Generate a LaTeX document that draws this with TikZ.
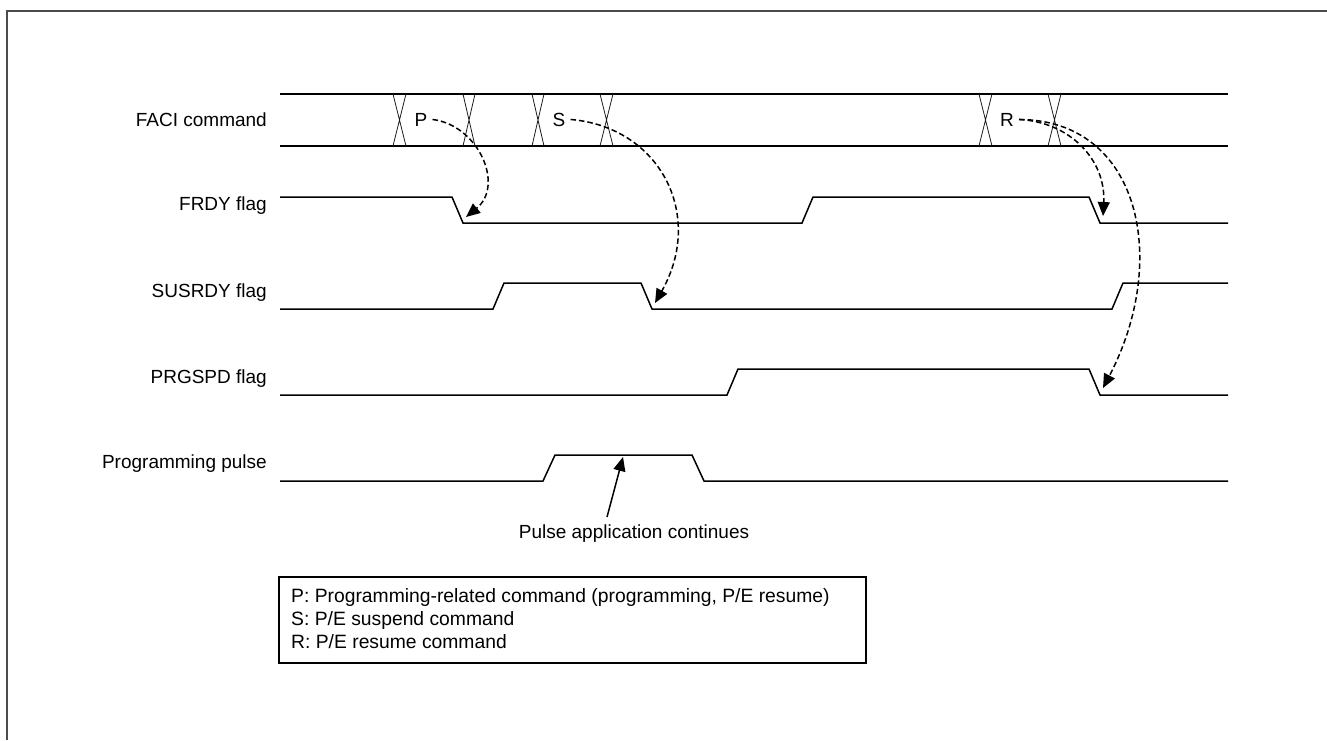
\documentclass[tikz,border=0pt]{standalone}
\usepackage{fontspec}
\setmainfont{Liberation Sans}
\usetikzlibrary{arrows.meta}
\begin{document}
\begin{tikzpicture}[x=1pt,y=-1pt,
  every node/.style={font=\fontsize{19}{23}\selectfont, inner sep=0pt},
  sig/.style={line width=1.5pt, line join=miter},
  xmark/.style={line width=0.8pt, draw=black!90},
  tip/.style={-{Triangle[length=14pt,width=12pt]}},
  dasharrow/.style={line width=1.5pt, dash pattern=on 5.5pt off 3pt, tip},
  sollarrow/.style={line width=1.5pt, tip},
  lbl/.style={anchor=base east},
  cmd/.style={anchor=base, inner xsep=5pt},
  legtext/.style={anchor=base west}]
\useasboundingbox (0,0) rectangle (1327,740);
% frame
\draw[draw=black!70, line width=2pt] (7,740) -- (7,11) -- (1327,11);

% labels
\node[lbl] (lfaci) at (267,126) {FACI command};
\node[lbl] (lfrdy) at (267,210) {FRDY flag};
\node[lbl] (lsus) at (267,297) {SUSRDY flag};
\node[lbl] (lprg) at (267,383) {PRGSPD flag};
\node[lbl] (lpulse) at (267,468) {Programming pulse};

% FACI bus
\draw[sig] (280,94) -- (1228,94);
\draw[sig] (280,146) -- (1228,146);
\foreach \a/\b in {393/406, 463/475, 532/544, 600/613, 979/992, 1048/1061}{
  \draw[xmark] (\a,94) -- (\b,146) (\b,94) -- (\a,146);
}
\node[cmd] (P) at (421,126) {P};
\node[cmd] (S) at (559,126) {S};
\node[cmd] (R) at (1007,126) {R};

% FRDY
\draw[sig] (280,197) -- (452,197) -- (463,223) -- (802,223) -- (813,197) -- (1089,197) -- (1100,223) -- (1228,223);
% SUSRDY
\draw[sig] (280,309) -- (493,309) -- (504,283) -- (641,283) -- (652,309) -- (1112,309) -- (1123,283) -- (1228,283);
% PRGSPD
\draw[sig] (280,395) -- (727,395) -- (738,369) -- (1089,369) -- (1100,395) -- (1228,395);
% Programming pulse
\draw[sig] (280,481) -- (543,481) -- (555,455) -- (692,455) -- (704,481) -- (1228,481);

% arrow targets
\coordinate (frdyP) at (466,217);
\coordinate (susS) at (655,303);
\coordinate (frdyR) at (1103,216);
\coordinate (prgR) at (1103,388);

\draw[dasharrow] (P.east) .. controls (478,125) and (505,185) .. (frdyP);
\draw[dasharrow] (S.east) .. controls (660,127) and (705,215) .. (susS);
\draw[dasharrow] (R.east) .. controls (1070,122) and (1106,160) .. (frdyR);
\draw[dasharrow] (R.east) .. controls (1140,120) and (1170,260) .. (prgR);

% pulse note
\node[anchor=base] (note) at (634,538) {Pulse application continues};
\coordinate (noteFrom) at (607,517);
\coordinate (noteTo) at (623,457);
\draw[sollarrow] (noteFrom) -- (noteTo);

% legend
\node[draw, line width=1.5pt, anchor=north west, minimum width=587pt, minimum height=86pt] (legend) at (278,576) {};
\node[legtext, font=\fontsize{19.3}{23}\selectfont] (leg1) at (291,602) {P: Programming-related command (programming, P/E resume)};
\node[legtext, font=\fontsize{19.3}{23}\selectfont] (leg2) at (291,625) {S: P/E suspend command};
\node[legtext, font=\fontsize{19.3}{23}\selectfont] (leg3) at (291,648) {R: P/E resume command};
\end{tikzpicture}
\end{document}
